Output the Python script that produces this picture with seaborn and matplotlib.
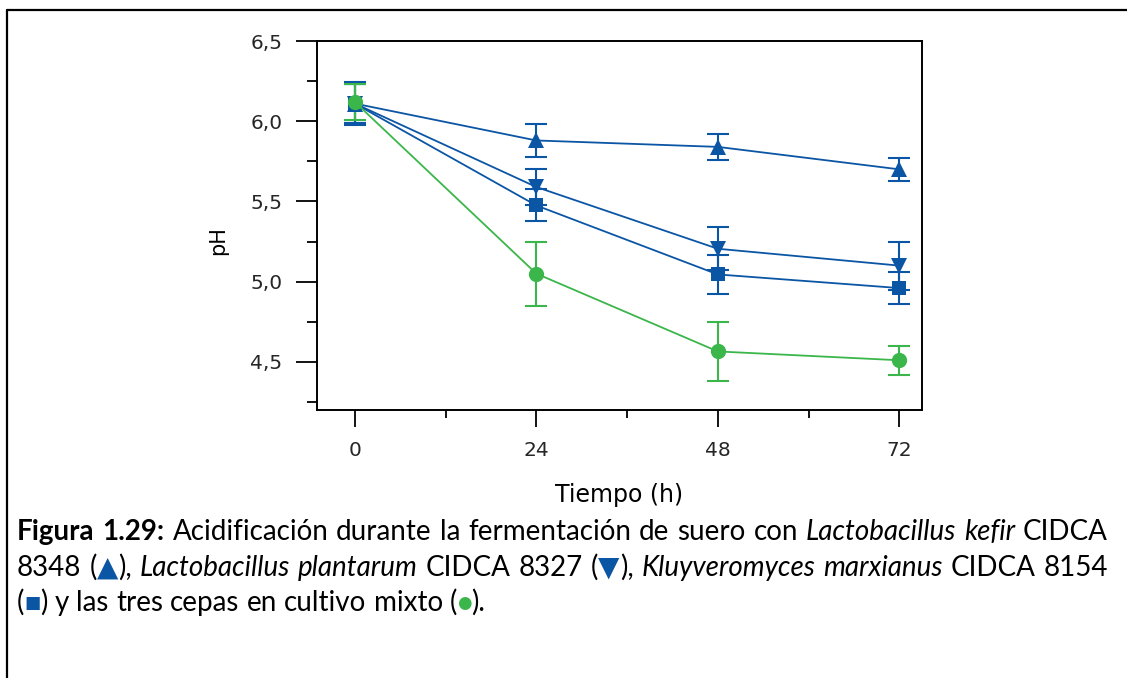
import matplotlib
matplotlib.use("Agg")
import matplotlib.pyplot as plt
from matplotlib.lines import Line2D
from matplotlib.ticker import FuncFormatter, MultipleLocator
import seaborn as sns
import pandas as pd

# Fermentation time (h) and pH readings with their deviations
tiempo = [0, 24, 48, 72]
ph_kefir = [6.11, 5.88, 5.84, 5.70]
err_kefir = [0.12, 0.10, 0.08, 0.07]
ph_plantarum = [6.11, 5.59, 5.205, 5.10]
err_plantarum = [0.12, 0.115, 0.135, 0.15]
ph_marxianus = [6.11, 5.475, 5.045, 4.96]
err_marxianus = [0.135, 0.10, 0.12, 0.10]
ph_mixto = [6.12, 5.05, 4.565, 4.51]
err_mixto = [0.11, 0.20, 0.185, 0.09]

x_ticks = [0, 24, 48, 72]
y_ticks = [4.5, 5.0, 5.5, 6.0, 6.5]

AZUL = "#0B55A5"
VERDE = "#3BB64B"

W, H, DPI = 1127, 678, 100
sns.set_theme(style="white")
plt.rcParams["font.family"] = ["DejaVu Sans"]

fig = plt.figure(figsize=(W / DPI, H / DPI), dpi=DPI)
ax = fig.add_axes([317 / W, 1 - 410 / H, (922 - 317) / W, (410 - 41) / H])

series = [
    (ph_kefir, err_kefir, "^", AZUL, 12),
    (ph_plantarum, err_plantarum, "v", AZUL, 12),
    (ph_marxianus, err_marxianus, "s", AZUL, 10),
    (ph_mixto, err_mixto, "o", VERDE, 11),
]

for vals, errs, mk, col, ms in series:
    df = pd.DataFrame({"t": tiempo, "ph": vals})
    ax.errorbar(df["t"], df["ph"], yerr=errs, fmt="none", ecolor=col,
                elinewidth=1.5, capsize=8, capthick=1.5, zorder=3)
    sns.lineplot(data=df, x="t", y="ph", ax=ax, color=col, linewidth=1.3,
                 marker=mk, markersize=ms, markeredgewidth=0,
                 markerfacecolor=col, zorder=4)

ax.set_xlim(-5, 75)
ax.set_ylim(4.2, 6.5)
ax.set_xticks(x_ticks)
ax.xaxis.set_minor_locator(MultipleLocator(12))
ax.set_yticks(y_ticks)
ax.yaxis.set_minor_locator(MultipleLocator(0.25))
ax.yaxis.set_major_formatter(FuncFormatter(lambda v, p: f"{v:.1f}".replace(".", ",")))
ax.xaxis.set_major_formatter(FuncFormatter(lambda v, p: f"{v:.0f}"))

for s in ax.spines.values():
    s.set_color("black")
    s.set_linewidth(1.4)

ax.tick_params(axis="y", which="major", direction="out", length=15, width=1.3,
               color="black", labelsize=14.5, pad=10, left=True)
ax.tick_params(axis="y", which="minor", direction="out", length=7, width=1.3,
               color="black", left=True)
ax.tick_params(axis="x", which="major", direction="out", length=12, width=1.3,
               color="black", labelsize=14.5, pad=10, bottom=True)
ax.tick_params(axis="x", which="minor", direction="out", length=6, width=1.3,
               color="black", bottom=True)

ax.set_xlabel("Tiempo (h)", fontsize=17, color="black")
ax.set_ylabel("pH", fontsize=15, color="black")
ax.xaxis.set_label_coords(0.5, (410 - 495) / (410 - 41), transform=ax.transAxes)
ax.yaxis.set_label_coords((218 - 317) / (922 - 317), (410 - 241) / (410 - 41),
                          transform=ax.transAxes)
ax.xaxis.label.set_va("center")
ax.yaxis.label.set_va("center")

# Frame lines around the figure panel
fig.add_artist(Line2D([7 / W, 7 / W], [0, 1 - 10 / H], color="black", lw=1.6,
                      transform=fig.transFigure))
fig.add_artist(Line2D([7 / W, 1], [1 - 10 / H, 1 - 10 / H], color="black", lw=1.6,
                      transform=fig.transFigure))

# Caption, justified over the first two lines
CAP_FONT = ["Lato", "DejaVu Sans"]
SYM_FONT = ["DejaVu Sans"]
CAP_SIZE = 20
styles = {
    "n": dict(weight="normal", style="normal"),
    "b": dict(weight="bold", style="normal"),
    "i": dict(weight="normal", style="italic"),
}


def w_(txt, sty="n"):
    # plain piece: text, style, colour, size factor, rise (px), is symbol
    return (txt, sty, "black", 1.0, 0, False)


def s_(txt, col, scale, rise):
    return (txt, "n", col, scale, rise, True)


linea1 = [
    [w_("Figura", "b")], [w_("1.29:", "b")], [w_("Acidificación")], [w_("durante")],
    [w_("la")], [w_("fermentación")], [w_("de")], [w_("suero")], [w_("con")],
    [w_("Lactobacillus", "i")], [w_("kefir", "i")], [w_("CIDCA")],
]
linea2 = [
    [w_("8348")], [w_("("), s_("▲", AZUL, 1.0, 0), w_("),")],
    [w_("Lactobacillus", "i")], [w_("plantarum", "i")], [w_("CIDCA")], [w_("8327")],
    [w_("("), s_("▼", AZUL, 1.0, 0), w_("),")],
    [w_("Kluyveromyces", "i")], [w_("marxianus", "i")], [w_("CIDCA")], [w_("8154")],
]
linea3 = [
    [w_("("), s_("■", AZUL, 0.62, 3), w_(")")],
    [w_("y")], [w_("las")], [w_("tres")], [w_("cepas")], [w_("en")],
    [w_("cultivo")], [w_("mixto")],
    [w_("("), s_("●", VERDE, 0.6, 3), w_(").")],
]

renderer = fig.canvas.get_renderer()


def draw_piece(piece, x, y):
    txt, sty, col, scale, rise, sym = piece
    t = fig.text(x / W, 1 - (y - rise) / H, txt, fontsize=CAP_SIZE * scale, color=col,
                 family=SYM_FONT if sym else CAP_FONT, va="baseline", ha="left",
                 **styles[sty])
    bb = t.get_window_extent(renderer=renderer)
    return t, bb.width


def word_width(word):
    total = 0.0
    for piece in word:
        t, w = draw_piece(piece, 0, -100)
        t.remove()
        total += w
    return total


def draw_line(words, y, x0=17, x1=1108, justify=True):
    widths = [word_width(wd) for wd in words]
    space = word_width([w_("a a")]) - 2 * word_width([w_("a")])
    if justify:
        gap = (x1 - x0 - sum(widths)) / (len(words) - 1)
    else:
        gap = space
    x = x0
    for wd, w in zip(words, widths):
        xx = x
        for piece in wd:
            _, pw = draw_piece(piece, xx, y)
            xx += pw
        x += w + gap


draw_line(linea1, 540)
draw_line(linea2, 576)
draw_line(linea3, 611, justify=False)

fig.savefig("out.png", dpi=DPI, facecolor="white")
